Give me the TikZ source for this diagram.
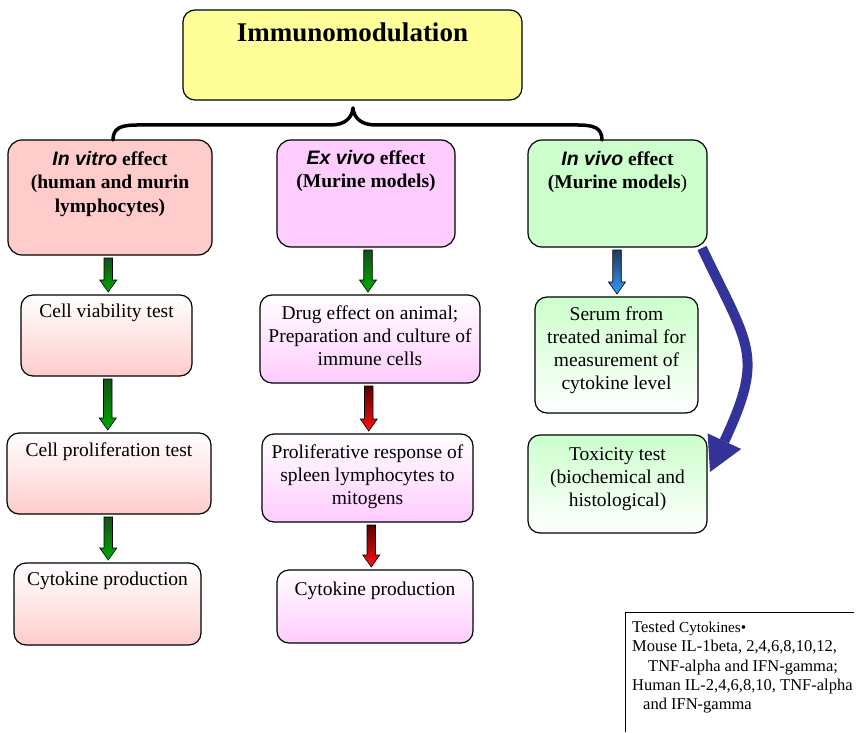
\documentclass[tikz,border=0pt]{standalone}
\usepackage{fontspec}
\setmainfont{Liberation Serif}
\setsansfont{Liberation Sans}
\newfontfamily\stepserif{Liberation Serif}
\usetikzlibrary{arrows.meta,calc}
\pgfdeclarelayer{bg}
\pgfsetlayers{bg,main}

\definecolor{titleyellow}{HTML}{FFFF99}
\definecolor{vitro}{HTML}{FFCCCC}
\definecolor{exvivo}{HTML}{FFCCFF}
\definecolor{invivo}{HTML}{CCFFCC}
\definecolor{bigblue}{HTML}{333399}
\definecolor{gdark}{HTML}{14501A}
\definecolor{glight}{HTML}{00AA00}
\definecolor{rdark}{HTML}{5A0000}
\definecolor{rlight}{HTML}{FF1010}
\definecolor{bdark}{HTML}{1F3A60}
\definecolor{blight}{HTML}{3399FF}

% box text: width, height, first baseline offset, font, lines
\newcommand\boxtxt[5]{\parbox[b][#2][t]{#1}{#4\centering\rule{0pt}{#3}#5\par}}
\newcommand\headfnt{\fontsize{19.5}{23.5}\selectfont\bfseries}
\newcommand\bodyfnt{\stepserif\fontsize{19.5}{23.3}\selectfont}
\newcommand\latinterm[1]{{\sffamily\itshape #1}}

% block arrow between two stacked boxes
\newcommand\blockarrow[3]{%
  \path[#1] let \p1=(#2.south), \p2=(#3.north), \n1={0.5*(\x1+\x2)} in
    (\n1-4.25pt,\y1-3pt) -- (\n1+4.25pt,\y1-3pt) -- (\n1+4.25pt,\y2+15pt)
    -- (\n1+8.5pt,\y2+15pt) -- (\n1,\y2+3pt) -- (\n1-8.5pt,\y2+15pt)
    -- (\n1-4.25pt,\y2+15pt) -- cycle;}

% shaded background under a step box
\newcommand\boxshade[2]{%
  \begin{pgfonlayer}{bg}
    \path[#1, rounded corners=12pt] (#2.north west) rectangle (#2.south east);
  \end{pgfonlayer}}

\tikzset{
  box/.style={draw=black, line width=1.2pt, inner sep=0pt, outer sep=0pt,
              anchor=north west},
  titlebox/.style={box, rounded corners=12pt, fill=titleyellow},
  headbox/.style={box, rounded corners=14pt, fill=#1},
  stepbox/.style={box, rounded corners=12pt},
  vitroshade/.style={top color=white, bottom color=vitro},
  exshade/.style={top color=white, bottom color=exvivo},
  invshade/.style={top color=invivo, bottom color=white},
  garrow/.style={draw=black, line width=0.6pt, top color=gdark, bottom color=glight},
  rarrow/.style={draw=black, line width=0.6pt, top color=rdark, bottom color=rlight},
  barrow/.style={draw=black, line width=0.6pt, top color=bdark, bottom color=blight},
  brace/.style={draw=black, line width=3.5pt, line cap=round, line join=round},
  bigarrow/.style={draw=bigblue, line width=10pt,
                   -{Triangle[width=37pt,length=34pt,line width=0pt]}},
}

\begin{document}
\begin{tikzpicture}[x=1pt,y=-1pt]
\begin{pgfonlayer}{bg}
  \path[fill=white, use as bounding box] (0,0) rectangle (857,726);
\end{pgfonlayer}

% title
\node[titlebox] (title) at (183,10)
  {\boxtxt{339pt}{90pt}{32pt}{\fontsize{27}{30}\selectfont\bfseries}{Immunomodulation}};

% column headers
\node[headbox=vitro] (h1) at (8,140)
  {\boxtxt{204pt}{115pt}{25pt}{\headfnt}{\latinterm{In vitro} effect\\(human and murin\\lymphocytes)}};
\node[headbox=exvivo] (h2) at (277,140)
  {\boxtxt{178pt}{107pt}{24pt}{\headfnt}{\latinterm{Ex vivo} effect\\(Murine models)}};
\node[headbox=invivo] (h3) at (528,140)
  {\boxtxt{179pt}{107pt}{25pt}{\headfnt}{\latinterm{In vivo} effect\\(Murine models{\mdseries)}}};

% brace joining the headers to the title
\coordinate (bl) at (113,140);
\coordinate (br) at (602,140);
\coordinate (bc) at (353,108);
\draw[brace] (bl) .. controls (113,128) and (121,125) .. (137,125) -- (330,125)
  .. controls (345,125) and (352,118) .. (bc)
  .. controls (354,118) and (361,125) .. (376,125) -- (578,125)
  .. controls (594,125) and (602,128) .. (br);

% in vitro column
\node[stepbox] (v1) at (21,295)
  {\boxtxt{171pt}{81pt}{22pt}{\bodyfnt}{Cell viability test}};
\node[stepbox] (v2) at (7,433)
  {\boxtxt{204pt}{81pt}{23.5pt}{\bodyfnt}{Cell proliferation test}};
\node[stepbox] (v3) at (14,563)
  {\boxtxt{187pt}{82pt}{22pt}{\bodyfnt}{Cytokine production}};

% ex vivo column
\node[stepbox] (e1) at (260,295)
  {\boxtxt{220pt}{88pt}{24pt}{\bodyfnt}{Drug effect on animal;\\Preparation and culture of\\immune cells}};
\node[stepbox] (e2) at (262,434)
  {\boxtxt{211pt}{88pt}{24pt}{\bodyfnt}{Proliferative response of\\spleen lymphocytes to\\mitogens}};
\node[stepbox] (e3) at (277,570)
  {\boxtxt{196pt}{73pt}{25pt}{\bodyfnt}{Cytokine production}};

% in vivo column
\node[stepbox] (s1) at (535,297)
  {\boxtxt{163pt}{116pt}{23pt}{\bodyfnt}{Serum from\\treated animal for\\measurement of\\cytokine level}};
\node[stepbox] (s2) at (528,435)
  {\boxtxt{179pt}{98pt}{25pt}{\bodyfnt}{Toxicity test\\(biochemical and\\histological)}};

% box gradients
\boxshade{vitroshade}{v1}
\boxshade{vitroshade}{v2}
\boxshade{vitroshade}{v3}
\boxshade{exshade}{e1}
\boxshade{exshade}{e2}
\boxshade{exshade}{e3}
\boxshade{invshade}{s1}
\boxshade{invshade}{s2}

% block arrows
\blockarrow{garrow}{h1}{v1}
\blockarrow{garrow}{v1}{v2}
\blockarrow{garrow}{v2}{v3}
\blockarrow{garrow}{h2}{e1}
\blockarrow{rarrow}{e1}{e2}
\blockarrow{rarrow}{e2}{e3}
\blockarrow{barrow}{h3}{s1}

% curved arrow to the toxicity test
\begin{pgfonlayer}{bg}
  \draw[bigarrow] ($(h3.south east)+(-5,1)$) .. controls (749,347) and (765,354)
    .. ($(s2.north east)+(3,37)$);
\end{pgfonlayer}

% list of tested cytokines
\node[anchor=north west, inner sep=0pt] (cyt) at (632,612)
  {\parbox[b][120pt][t]{222pt}{\fontsize{16.5}{19.4}\selectfont\raggedright
   \rule{0pt}{20pt}Tested {\fontsize{15.2}{19.4}\selectfont Cytokines•}\\
   Mouse IL-1beta, 2,4,6,8,10,12,\\
   \hspace*{16pt}TNF-alpha and IFN-gamma;\\
   Human IL-2,4,6,8,10, TNF-alpha\\
   \hspace*{11pt}and IFN-gamma\par}};
\draw[line width=1pt] ($(cyt.south west)+(-7,0)$) -- ($(cyt.north west)+(-7,0)$)
  -- (cyt.north east);
\end{tikzpicture}
\end{document}
